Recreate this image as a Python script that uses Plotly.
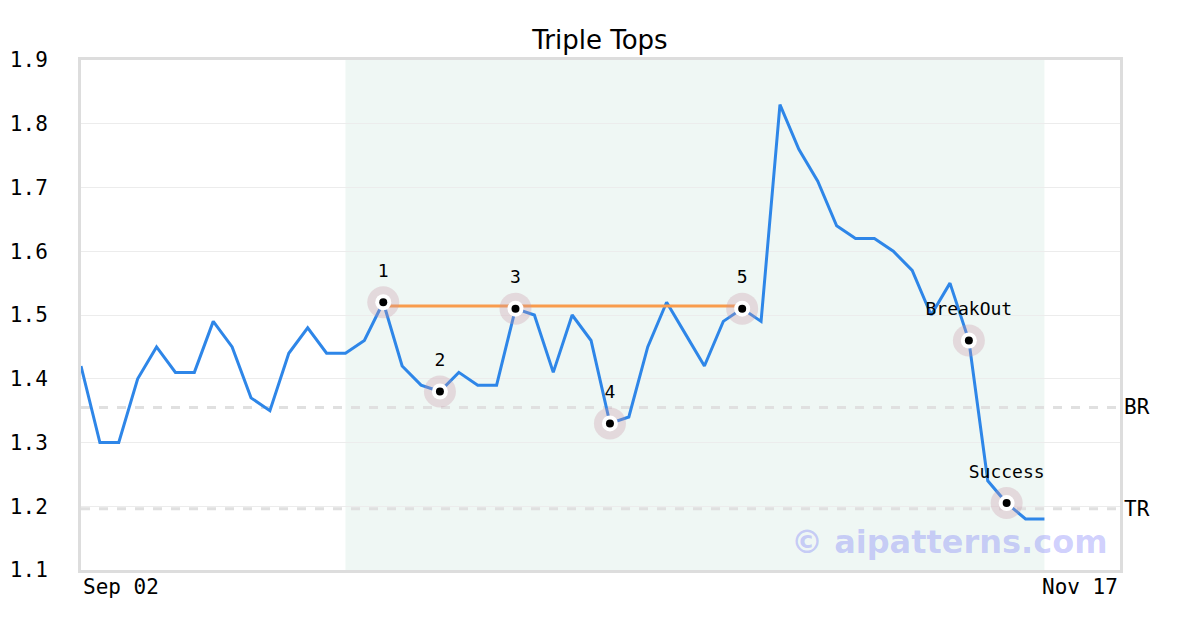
import plotly.graph_objects as go

# closing prices, one per trading day starting Sep 02
prices = [1.42, 1.30, 1.30, 1.40, 1.45, 1.41, 1.41, 1.49, 1.45, 1.37,
          1.35, 1.44, 1.48, 1.44, 1.44, 1.46, 1.52, 1.42, 1.39, 1.38,
          1.41, 1.39, 1.39, 1.51, 1.50, 1.41, 1.50, 1.46, 1.33, 1.34,
          1.45, 1.52, 1.47, 1.42, 1.49, 1.51, 1.49, 1.83, 1.76, 1.71,
          1.64, 1.62, 1.62, 1.60, 1.57, 1.50, 1.55, 1.46, 1.24, 1.205,
          1.18, 1.18]

pattern_idx = [16, 19, 23, 28, 35]
pattern_labels = ['1', '2', '3', '4', '5']
signal_idx = [47, 49]
signal_labels = ['BreakOut', 'Success']

top_line = 1.514
br_level = 1.355
tr_level = 1.196
zone = (14, 51)

tick_pos = [0, 55]
tick_text = ['Sep 02', 'Nov 17']

mono = 'DejaVu Sans Mono'
x = list(range(len(prices)))

fig = go.Figure()

# pattern zone
fig.add_shape(type='rect', xref='x', yref='paper', x0=zone[0], x1=zone[1], y0=0, y1=1,
              fillcolor='#eff7f4', line_width=0, layer='below')

# support / target levels
for lvl, name in [(br_level, 'BR'), (tr_level, 'TR')]:
    fig.add_shape(type='line', xref='paper', yref='y', x0=0, x1=1, y0=lvl, y1=lvl,
                  line=dict(color='#e0e0e0', width=3, dash='dash'), layer='below')
    fig.add_annotation(xref='paper', yref='y', x=1.0, y=lvl, text=name, showarrow=False,
                       xanchor='left', xshift=2, font=dict(family=mono, size=21, color='black'))

fig.add_trace(go.Scatter(x=x, y=prices, mode='lines',
                         line=dict(color='#2e86e8', width=3), hoverinfo='skip'))

fig.add_trace(go.Scatter(x=[pattern_idx[0], pattern_idx[-1]], y=[top_line, top_line], mode='lines',
                         line=dict(color='#f99c4c', width=3), hoverinfo='skip'))

def add_points(idx, labels, size):
    xs = idx
    ys = [prices[i] for i in idx]
    fig.add_trace(go.Scatter(x=xs, y=ys, mode='markers+text', text=labels,
                             textposition='top center',
                             textfont=dict(family=mono, size=size, color='black'),
                             marker=dict(size=32, color='rgba(200,150,165,0.3)', line_width=0)))
    fig.add_trace(go.Scatter(x=xs, y=ys, mode='markers',
                             marker=dict(size=16, color='white', line_width=0)))
    fig.add_trace(go.Scatter(x=xs, y=ys, mode='markers',
                             marker=dict(size=8, color='black', line_width=0)))

add_points(pattern_idx, pattern_labels, 18)
add_points(signal_idx, signal_labels, 18)

# x tick labels at the ends of the axis
fig.add_annotation(x=tick_pos[0], y=0, xref='x', yref='paper', yanchor='top', xanchor='left',
                   yshift=-3, text=tick_text[0], showarrow=False,
                   font=dict(family=mono, size=21, color='black'))
fig.add_annotation(x=tick_pos[1], y=0, xref='x', yref='paper', yanchor='top', xanchor='right',
                   yshift=-3, text=tick_text[1], showarrow=False,
                   font=dict(family=mono, size=21, color='black'))

fig.add_annotation(xref='paper', yref='paper', x=0.99, y=0.055, xanchor='right', yanchor='middle',
                   text='<b>© aipatterns.com</b>', showarrow=False,
                   font=dict(family='DejaVu Sans', size=32, color='rgba(110,110,250,0.32)'))

fig.update_layout(
    width=1200, height=630,
    title=dict(text='Triple Tops', x=0.4933, xanchor='center', y=0.949, yanchor='middle',
               font=dict(family='DejaVu Sans', size=26, color='black')),
    margin=dict(l=73, r=88, t=52, b=68),
    plot_bgcolor='white', paper_bgcolor='white',
    showlegend=False,
    xaxis=dict(range=[0, 55], showticklabels=False, showgrid=False, zeroline=False,
               showline=True, linecolor='#dddddd', linewidth=3, mirror=True, automargin=False),
    yaxis=dict(range=[1.1, 1.9], dtick=0.1, tickformat='.1f', showgrid=True, gridcolor='#ececec',
               gridwidth=1, zeroline=False, showline=True, linecolor='#dddddd', linewidth=3,
               mirror=True, ticklabelstandoff=26, automargin=False,
               tickfont=dict(family=mono, size=21, color='black')),
)

fig.write_html('out.html')
